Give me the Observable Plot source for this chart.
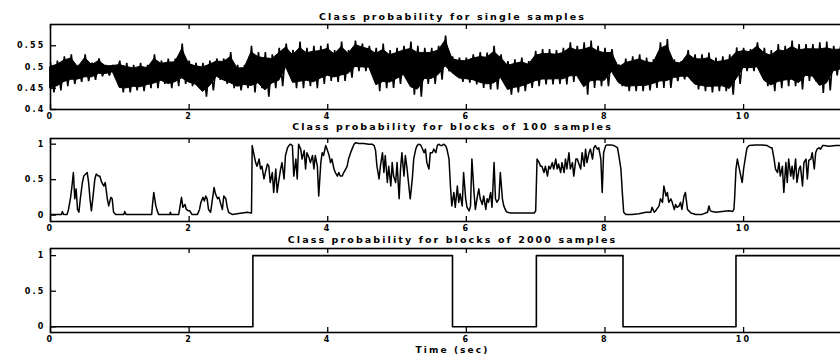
<!DOCTYPE html>
<html><head><meta charset="utf-8">
<script src="https://cdn.jsdelivr.net/npm/d3@7"></script>
<script src="https://cdn.jsdelivr.net/npm/@observablehq/plot@0.6"></script>
<style>
html,body{margin:0;padding:0;background:#fff;overflow:hidden;width:840px;height:357px;}
#chart{position:relative;width:840px;height:357px;overflow:hidden;}
#chart svg{position:absolute;left:0;overflow:visible;max-width:none !important;}
</style></head><body><div id="chart"></div>
<script>
// ---- texts & ticks ----
const titles = [
  "Class probability for single samples",
  "Class probability for blocks of 100 samples",
  "Class probability for blocks of 2000 samples"
];
const xLabel = "Time (sec)";
const xTicks = [0, 2, 4, 6, 8, 10];
const singleYTicks = [0.4, 0.45, 0.5, 0.55];
const probYTicks = [0, 0.5, 1];

// ---- panel 1: single samples, envelope of the noisy trace every 0.1 s ----
const singleStep = 0.1;
const singleHigh = [0.51,0.515,0.525,0.53,0.505,0.53,0.51,0.52,0.505,0.505,
  0.515,0.51,0.505,0.51,0.505,0.53,0.515,0.52,0.52,0.555,
  0.515,0.51,0.51,0.515,0.52,0.52,0.535,0.505,0.505,0.55,
  0.535,0.535,0.53,0.545,0.555,0.54,0.56,0.545,0.55,0.55,
  0.555,0.54,0.56,0.54,0.562,0.555,0.55,0.545,0.555,0.54,
  0.545,0.55,0.56,0.55,0.545,0.545,0.55,0.574,0.525,0.522,
  0.522,0.53,0.535,0.534,0.55,0.53,0.514,0.518,0.522,0.514,
  0.538,0.542,0.542,0.54,0.545,0.558,0.55,0.558,0.562,0.55,
  0.545,0.542,0.506,0.52,0.525,0.53,0.522,0.518,0.558,0.566,
  0.518,0.514,0.54,0.53,0.53,0.534,0.522,0.525,0.53,0.546,
  0.545,0.542,0.558,0.545,0.54,0.554,0.55,0.562,0.554,0.554,
  0.554,0.558,0.56,0.55,0.55];
const singleLow = [0.44,0.445,0.455,0.46,0.465,0.467,0.47,0.478,0.48,0.485,
  0.44,0.44,0.445,0.443,0.45,0.45,0.46,0.45,0.455,0.46,
  0.455,0.45,0.43,0.445,0.47,0.46,0.45,0.445,0.45,0.44,
  0.45,0.43,0.45,0.455,0.49,0.45,0.45,0.455,0.45,0.46,
  0.467,0.465,0.467,0.475,0.49,0.49,0.49,0.443,0.45,0.451,
  0.46,0.47,0.435,0.43,0.46,0.46,0.47,0.49,0.479,0.465,
  0.463,0.459,0.451,0.447,0.447,0.465,0.435,0.44,0.443,0.451,
  0.455,0.459,0.459,0.46,0.459,0.465,0.467,0.435,0.451,0.455,
  0.455,0.48,0.455,0.443,0.443,0.443,0.445,0.451,0.451,0.451,
  0.467,0.471,0.467,0.447,0.443,0.44,0.443,0.443,0.435,0.46,
  0.49,0.49,0.49,0.455,0.443,0.45,0.455,0.455,0.447,0.467,
  0.465,0.439,0.445,0.48,0.485];

// ---- panel 2: blocks of 100 samples [time, probability] ----
const block100 = [
 [0,0.01],[0.16,0.01],[0.17,0.05],[0.19,0.01],[0.24,0.01],[0.26,0.08],[0.29,0.25],[0.31,0.41],[0.33,0.6],[0.35,0.23],
 [0.37,0.37],[0.39,0.08],[0.41,0.04],[0.43,0.23],[0.46,0.46],[0.48,0.55],[0.53,0.6],[0.55,0.46],[0.57,0.23],[0.59,0.06],
 [0.61,0.23],[0.64,0.51],[0.66,0.58],[0.69,0.55],[0.71,0.55],[0.74,0.46],[0.77,0.41],[0.79,0.46],[0.82,0.23],[0.84,0.13],
 [0.87,0.25],[0.89,0.23],[0.91,0.04],[0.94,0.01],[1.06,0.01],[1.07,0.05],[1.09,0.01],[1.46,0.01],[1.47,0.13],[1.49,0.32],
 [1.52,0.13],[1.54,0.06],[1.56,0.01],[1.72,0.01],[1.73,0.04],[1.74,0.01],[1.85,0.01],[1.87,0.13],[1.89,0.25],[1.91,0.11],
 [1.94,0.15],[1.96,0.08],[1.99,0.06],[2.01,0.06],[2.04,0.01],[2.12,0.01],[2.15,0.08],[2.17,0.18],[2.2,0.25],[2.22,0.2],
 [2.24,0.27],[2.26,0.23],[2.28,0.08],[2.31,0.04],[2.33,0.18],[2.36,0.39],[2.38,0.3],[2.41,0.23],[2.43,0.25],[2.45,0.18],
 [2.48,0.08],[2.5,0.27],[2.53,0.23],[2.55,0.11],[2.57,0.04],[2.62,0.01],[2.84,0.04],[2.89,0.03],[2.9,0.03],[2.91,0.98],
 [2.93,0.88],[2.96,0.74],[2.98,0.69],[3.01,0.79],[3.03,0.65],[3.05,0.69],[3.08,0.51],[3.1,0.6],[3.13,0.72],[3.15,0.69],
 [3.17,0.46],[3.2,0.6],[3.22,0.32],[3.25,0.65],[3.27,0.32],[3.29,0.46],[3.32,0.65],[3.34,0.74],[3.37,0.51],[3.39,0.84],
 [3.42,0.95],[3.44,0.98],[3.46,1.0],[3.49,0.98],[3.51,0.55],[3.54,0.79],[3.56,0.51],[3.58,1.0],[3.61,0.93],[3.63,0.79],
 [3.66,0.91],[3.68,0.65],[3.7,0.88],[3.73,0.81],[3.75,0.74],[3.78,0.84],
 [3.8,0.65],[3.82,0.84],[3.85,0.69],[3.87,0.27],[3.9,0.74],[3.92,0.88],[3.94,0.84],[3.97,0.98],[3.99,0.93],[4.02,0.84],
 [4.04,0.74],[4.06,0.79],[4.09,0.65],[4.11,0.6],[4.14,0.55],[4.16,0.6],[4.18,0.55],[4.21,0.55],[4.23,0.6],[4.26,0.65],
 [4.28,0.69],[4.3,0.79],[4.33,0.88],[4.35,0.93],[4.38,1.0],[4.4,1.02],[4.45,1.01],[4.52,1.01],[4.59,1.0],[4.64,1.0],
 [4.67,0.98],[4.69,0.91],[4.71,0.69],[4.74,0.51],[4.76,0.69],[4.79,0.88],[4.81,0.6],[4.83,0.84],[4.86,0.46],[4.88,0.69],
 [4.91,0.41],[4.93,0.74],[4.95,0.55],[4.98,0.46],[5.0,0.74],[5.03,0.23],[5.05,0.65],[5.07,0.88],[5.1,0.55],[5.12,0.84],
 [5.14,0.69],[5.17,0.41],[5.19,0.23],[5.22,0.51],[5.24,0.79],[5.27,0.93],[5.29,0.98],[5.31,1.0],[5.34,0.99],[5.36,0.95],
 [5.39,0.88],[5.41,0.93],[5.43,0.74],[5.46,0.65],[5.48,0.88],[5.51,0.88],[5.53,0.93],[5.56,0.88],[5.58,0.98],[5.6,1.0],
 [5.63,0.98],[5.65,0.98],[5.67,1.0],[5.7,0.98],[5.72,0.93],[5.75,0.79],[5.77,0.41],[5.79,0.13],[5.82,0.32],[5.84,0.11],
 [5.87,0.41],[5.89,0.18],[5.91,0.3],[5.94,0.13],[5.96,0.6],[5.99,0.23],[6.01,0.11],[6.04,0.06],[6.06,0.13],[6.08,0.79],
 [6.11,0.32],[6.13,0.08],[6.16,0.27],[6.18,0.37],[6.2,0.23],[6.23,0.15],[6.25,0.27],[6.28,0.08],[6.3,0.23],[6.32,0.18],
 [6.35,0.32],[6.37,0.11],[6.4,0.74],[6.42,0.23],[6.44,0.18],[6.47,0.23],[6.49,0.6],[6.52,0.23],[6.54,0.13],[6.57,0.06],
 [6.59,0.04],[6.64,0.03],[6.98,0.03],[7.0,0.06],[7.02,0.79],[7.05,0.74],[7.07,0.69],[7.09,0.69],[7.12,0.6],[7.14,0.69],
 [7.17,0.55],[7.19,0.69],[7.21,0.65],[7.24,0.74],[7.26,0.65],[7.29,0.79],[7.31,0.65],[7.33,0.72],[7.36,0.6],[7.38,0.74],
 [7.41,0.6],[7.43,0.79],[7.45,0.65],[7.48,0.88],[7.5,0.65],[7.53,0.74],[7.55,0.55],[7.58,0.79],[7.6,0.79],[7.65,0.65],
 [7.67,0.88],[7.7,0.69],[7.72,0.93],[7.74,0.74],[7.77,0.88],[7.79,0.93],[7.82,0.79],[7.84,0.95],[7.86,0.98],[7.89,0.93],
 [7.91,0.95],[7.94,0.79],[7.96,0.32],[7.98,0.88],[8.01,0.98],[8.03,0.99],[8.08,0.99],[8.13,0.98],[8.18,0.95],[8.2,0.84],
 [8.23,0.65],[8.25,0.32],[8.27,0.04],[8.3,0.01],[8.39,0.01],[8.49,0.02],[8.59,0.04],[8.66,0.04],[8.68,0.11],[8.71,0.04],
 [8.73,0.06],[8.78,0.13],[8.8,0.23],[8.83,0.18],[8.85,0.41],[8.88,0.27],[8.9,0.32],[8.92,0.18],[8.95,0.23],[8.97,0.18],
 [9.0,0.08],[9.02,0.15],[9.04,0.11],[9.07,0.13],[9.09,0.18],[9.11,0.08],[9.14,0.27],[9.16,0.32],[9.19,0.08],[9.21,0.06],
 [9.24,0.03],[9.31,0.01],[9.4,0.01],[9.48,0.04],[9.5,0.13],[9.52,0.06],[9.55,0.05],[9.6,0.04],[9.69,0.05],[9.79,0.06],
 [9.84,0.05],[9.86,0.08],[9.87,0.23],[9.89,0.65],[9.91,0.79],[9.93,0.69],[9.96,0.55],[9.98,0.46],[10.0,0.65],[10.03,0.84],
 [10.05,0.95],[10.08,0.98],[10.17,0.99],[10.27,0.99],[10.34,0.98],[10.39,0.95],[10.41,0.95],[10.44,0.79],[10.46,0.65],[10.49,0.6],
 [10.51,0.74],[10.53,0.55],[10.56,0.69],[10.58,0.32],[10.61,0.74],[10.63,0.46],[10.65,0.79],[10.68,0.55],[10.7,0.69],[10.72,0.51],
 [10.75,0.79],[10.77,0.46],[10.8,0.65],[10.82,0.69],[10.85,0.41],[10.87,0.74],[10.9,0.79],[10.92,0.51],[10.94,0.77],[10.97,0.79],
 [10.99,0.88],[11.02,0.65],[11.04,0.88],[11.06,0.93],[11.09,0.95],[11.11,0.93],[11.14,0.98],[11.16,0.98],[11.23,0.97],[11.33,0.98],
 [11.4,0.98],[11.6,0.98]
];

// ---- panel 3: blocks of 2000 samples (piecewise constant) ----
const switchTimes = [0, 2.92, 5.8, 7.01, 8.26, 9.89, 11.6];
const levels      = [0, 1, 0, 1, 0, 1, 1];

// ---- build tables ----
const singleTable = singleHigh.map((h, i) => ({t: +(i * singleStep).toFixed(2), hi: h, lo: singleLow[i]}));
// the trace swings between the read envelope values: peak, trough, peak, ...
const singleTrace = singleTable.flatMap(d => [
  {t: d.t, v: d.hi},
  {t: +(d.t + singleStep / 2).toFixed(3), v: d.lo}
]);
const block100Table = block100.map(([t, p]) => ({t, p}));
const block2000Table = switchTimes.map((t, i) => ({t, p: levels[i]}));

const W = 860, ML = 50, MR = 6;
const FONT = "'DejaVu Sans', 'Liberation Sans', Arial, sans-serif";

function panel({top, height, mt, mb, yDomain, yTicks, title, titleDy, marks, extra = []}) {
  const frameH = height - mt - mb, frameW = W - ML - MR;
  const svg = Plot.plot({
    width: W, height,
    marginLeft: ML, marginRight: MR, marginTop: mt, marginBottom: mb,
    style: {fontFamily: FONT, fontWeight: "bold", fontSize: "8px", background: "transparent", color: "#000", overflow: "visible", maxWidth: "none"},
    x: {domain: [0, 11.6], label: null},
    y: {domain: yDomain, label: null},
    marks: [
      ...marks,
      Plot.frame({stroke: "#000", strokeWidth: 1.6}),
      Plot.ruleX(xTicks, {stroke: "#000", strokeWidth: 1.3, insetTop: frameH - 5}),
      Plot.ruleX(xTicks, {stroke: "#000", strokeWidth: 1.3, insetBottom: frameH - 5}),
      Plot.ruleY(yTicks, {stroke: "#000", strokeWidth: 1.3, insetRight: frameW - 6}),
      Plot.axisX(xTicks, {tickSize: 0, tickPadding: 4, tickFormat: d => String(d), fill: "#000"}),
      Plot.axisY(yTicks, {tickSize: 0, tickPadding: 5, tickFormat: d => String(d), fill: "#000"}),
      Plot.text([title], {text: d => d, frameAnchor: "top", lineAnchor: "bottom", dy: titleDy, fill: "#000", fontSize: 9.5, fontWeight: "bold"}),
      ...extra
    ]
  });
  svg.style.top = top + "px";
  svg.style.maxWidth = "none";
  d3.select(svg).selectAll("text").style("letter-spacing", "2.2px");
  d3.select(svg).selectAll('g[aria-label="text"] text').style("letter-spacing", "2.1px");
  document.getElementById("chart").appendChild(svg);
}

panel({
  top: 0, height: 124, mt: 24, mb: 15,
  yDomain: [0.4, 0.6], yTicks: singleYTicks, title: titles[0], titleDy: -5,
  marks: [
    // solid core of the dense trace
    Plot.areaY(singleTable, {x: "t", y1: d => d.lo + (d.hi - d.lo) * 0.14, y2: d => d.hi - (d.hi - d.lo) * 0.14, fill: "#000", stroke: "#000", strokeWidth: 1}),
    // spiky swings out to the envelope
    Plot.lineY(singleTrace, {x: "t", y: "v", stroke: "#000", strokeWidth: 1.6, strokeLinejoin: "miter"})
  ]
});

panel({
  top: 124, height: 110, mt: 14, mb: 13,
  yDomain: [-0.09, 1.08], yTicks: probYTicks, title: titles[1], titleDy: -9,
  marks: [
    Plot.lineY(block100Table, {x: "t", y: "p", stroke: "#000", strokeWidth: 1.5})
  ]
});

panel({
  top: 234, height: 123, mt: 14, mb: 25,
  yDomain: [-0.08, 1.1], yTicks: probYTicks, title: titles[2], titleDy: -6,
  marks: [
    Plot.lineY(block2000Table, {x: "t", y: "p", curve: "step-after", stroke: "#000", strokeWidth: 1.6})
  ],
  extra: [
    Plot.text([xLabel], {text: d => d, frameAnchor: "bottom", lineAnchor: "top", dy: 14, dx: 0, fill: "#000", fontSize: 9, fontWeight: "bold"})
  ]
});
</script></body></html>
